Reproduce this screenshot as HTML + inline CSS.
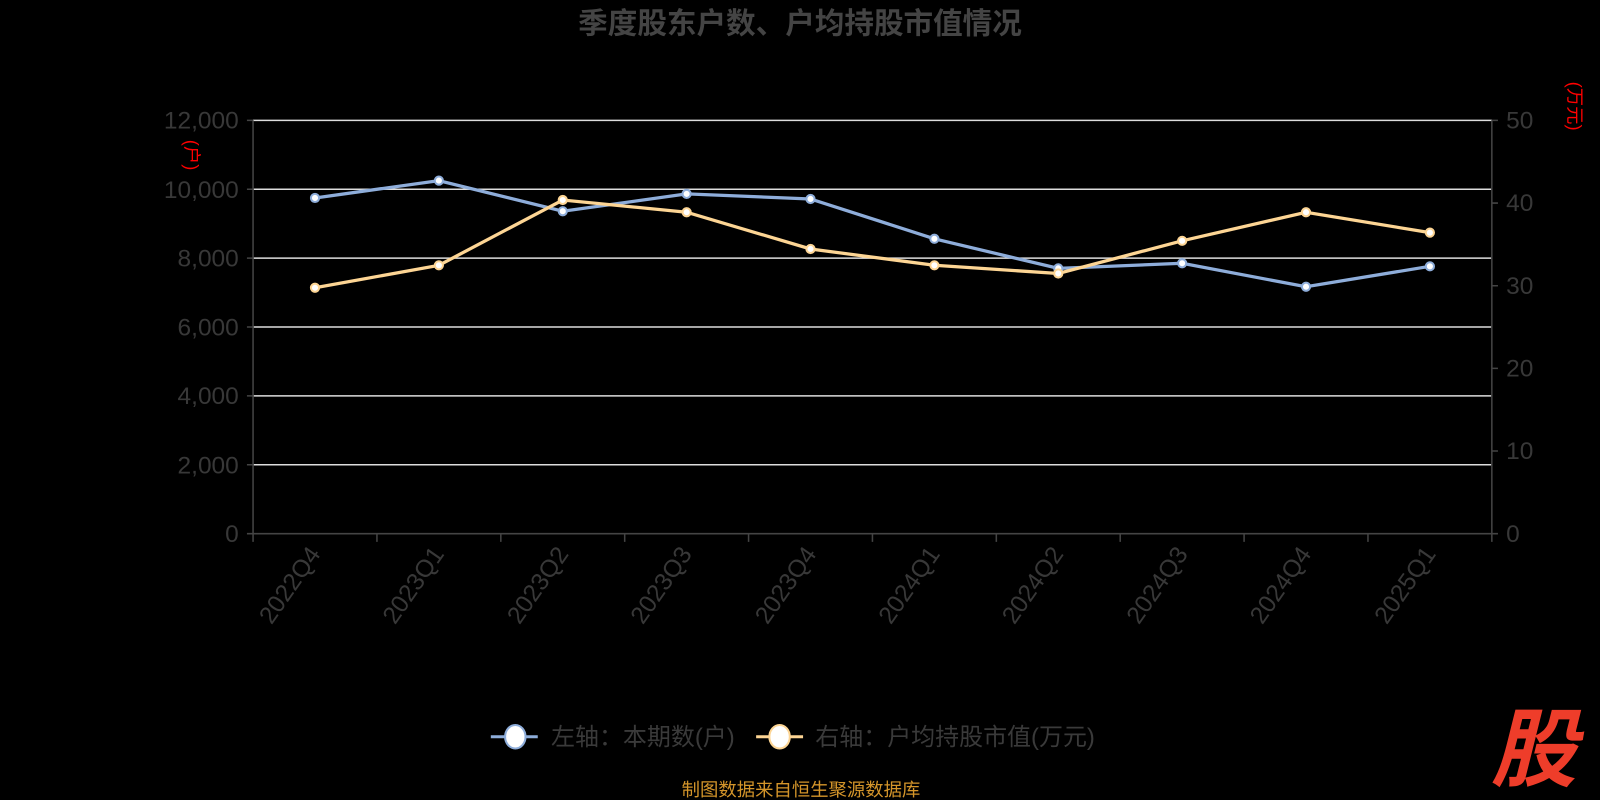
<!DOCTYPE html>
<html><head><meta charset="utf-8"><style>
html,body{margin:0;padding:0;background:#000;width:1600px;height:800px;overflow:hidden}
svg{display:block}
text{font-family:"Liberation Sans","Noto Sans CJK SC",sans-serif}
</style></head><body>
<svg width="1600" height="800" viewBox="0 0 1568 784">
<rect width="1568" height="784" fill="#000"/>
<text x="784" y="33" text-anchor="middle" font-size="29" font-weight="bold" fill="#444">季度股东户数、户均持股市值情况</text>
<g stroke="#ddd" stroke-width="1.5">
<line x1="248" y1="118" x2="1462" y2="118"/><line x1="248" y1="185.5" x2="1462" y2="185.5"/>
<line x1="248" y1="253" x2="1462" y2="253"/><line x1="248" y1="320.5" x2="1462" y2="320.5"/>
<line x1="248" y1="388" x2="1462" y2="388"/><line x1="248" y1="455.5" x2="1462" y2="455.5"/>
</g>
<g stroke="#444" stroke-width="1.5" fill="none">
<line x1="248" y1="118" x2="248" y2="523"/><line x1="1462" y1="118" x2="1462" y2="523"/>
<line x1="242" y1="523" x2="1462" y2="523"/>
<path d="M242 118h6M242 185.5h6M242 253h6M242 320.5h6M242 388h6M242 455.5h6M1462 118h6M1462 199h6M1462 280h6M1462 361h6M1462 442h6M1462 523h6"/>
<path d="M248 523v8M369.4 523v8M490.8 523v8M612.2 523v8M733.6 523v8M855 523v8M976.4 523v8M1097.8 523v8M1219.2 523v8M1340.6 523v8M1462 523v8"/>
</g>
<g font-size="24" fill="#383838" text-anchor="end">
<text x="234" y="126">12,000</text><text x="234" y="194">10,000</text><text x="234" y="261">8,000</text>
<text x="234" y="329">6,000</text><text x="234" y="396">4,000</text><text x="234" y="464">2,000</text><text x="234" y="531">0</text>
</g>
<g font-size="24" fill="#383838">
<text x="1476" y="126">50</text><text x="1476" y="207">40</text><text x="1476" y="288">30</text>
<text x="1476" y="369">20</text><text x="1476" y="450">10</text><text x="1476" y="531">0</text>
</g>
<text transform="translate(182,152) rotate(90)" font-size="18" fill="#f00" text-anchor="middle">(户)</text>
<text transform="translate(1537,104) rotate(90)" font-size="18" fill="#f00" text-anchor="middle">(万元)</text>
<g font-size="24" fill="#383838" text-anchor="end">
<text transform="translate(315,543) rotate(-55)">2022Q4</text>
<text transform="translate(436,543) rotate(-55)">2023Q1</text>
<text transform="translate(558,543) rotate(-55)">2023Q2</text>
<text transform="translate(679,543) rotate(-55)">2023Q3</text>
<text transform="translate(801,543) rotate(-55)">2023Q4</text>
<text transform="translate(922,543) rotate(-55)">2024Q1</text>
<text transform="translate(1043,543) rotate(-55)">2024Q2</text>
<text transform="translate(1165,543) rotate(-55)">2024Q3</text>
<text transform="translate(1286,543) rotate(-55)">2024Q4</text>
<text transform="translate(1408,543) rotate(-55)">2025Q1</text>
</g>
<polyline fill="none" stroke="#8eadda" stroke-width="3.2" points="308.7,194 430.1,177 551.5,207 672.9,190 794.3,195 915.7,234 1037.1,263 1158.5,258 1279.9,281 1401.3,261"/>
<polyline fill="none" stroke="#fdd594" stroke-width="3.2" points="308.7,282 430.1,260 551.5,196 672.9,208 794.3,244 915.7,260 1037.1,268 1158.5,236 1279.9,208 1401.3,228"/>
<g fill="#fff" stroke="#8eadda" stroke-width="2">
<circle cx="308.7" cy="194" r="4"/><circle cx="430.1" cy="177" r="4"/><circle cx="551.5" cy="207" r="4"/><circle cx="672.9" cy="190" r="4"/><circle cx="794.3" cy="195" r="4"/><circle cx="915.7" cy="234" r="4"/><circle cx="1037.1" cy="263" r="4"/><circle cx="1158.5" cy="258" r="4"/><circle cx="1279.9" cy="281" r="4"/><circle cx="1401.3" cy="261" r="4"/>
</g>
<g fill="#fff" stroke="#fdd594" stroke-width="2">
<circle cx="308.7" cy="282" r="4"/><circle cx="430.1" cy="260" r="4"/><circle cx="551.5" cy="196" r="4"/><circle cx="672.9" cy="208" r="4"/><circle cx="794.3" cy="244" r="4"/><circle cx="915.7" cy="260" r="4"/><circle cx="1037.1" cy="268" r="4"/><circle cx="1158.5" cy="236" r="4"/><circle cx="1279.9" cy="208" r="4"/><circle cx="1401.3" cy="228" r="4"/>
</g>
<line x1="481" y1="722" x2="527" y2="722" stroke="#8eadda" stroke-width="3"/>
<ellipse cx="505" cy="722" rx="10" ry="11.5" fill="#fff" stroke="#8eadda" stroke-width="2"/>
<text x="540" y="730" font-size="23.5" fill="#3a3a3a">左轴：本期数(户)</text>
<line x1="741" y1="722" x2="787" y2="722" stroke="#fdd594" stroke-width="3"/>
<ellipse cx="764" cy="722" rx="10" ry="11.5" fill="#fff" stroke="#fdd594" stroke-width="2"/>
<text x="799" y="730" font-size="23.5" fill="#3a3a3a">右轴：户均持股市值(万元)</text>
<text x="785" y="780" text-anchor="middle" font-size="18" fill="#d4952a">制图数据来自恒生聚源数据库</text>
<text x="1503" y="764" text-anchor="middle" font-size="84" font-weight="bold" font-style="italic" fill="#ee3d2a">股</text>
</svg>
</body></html>
